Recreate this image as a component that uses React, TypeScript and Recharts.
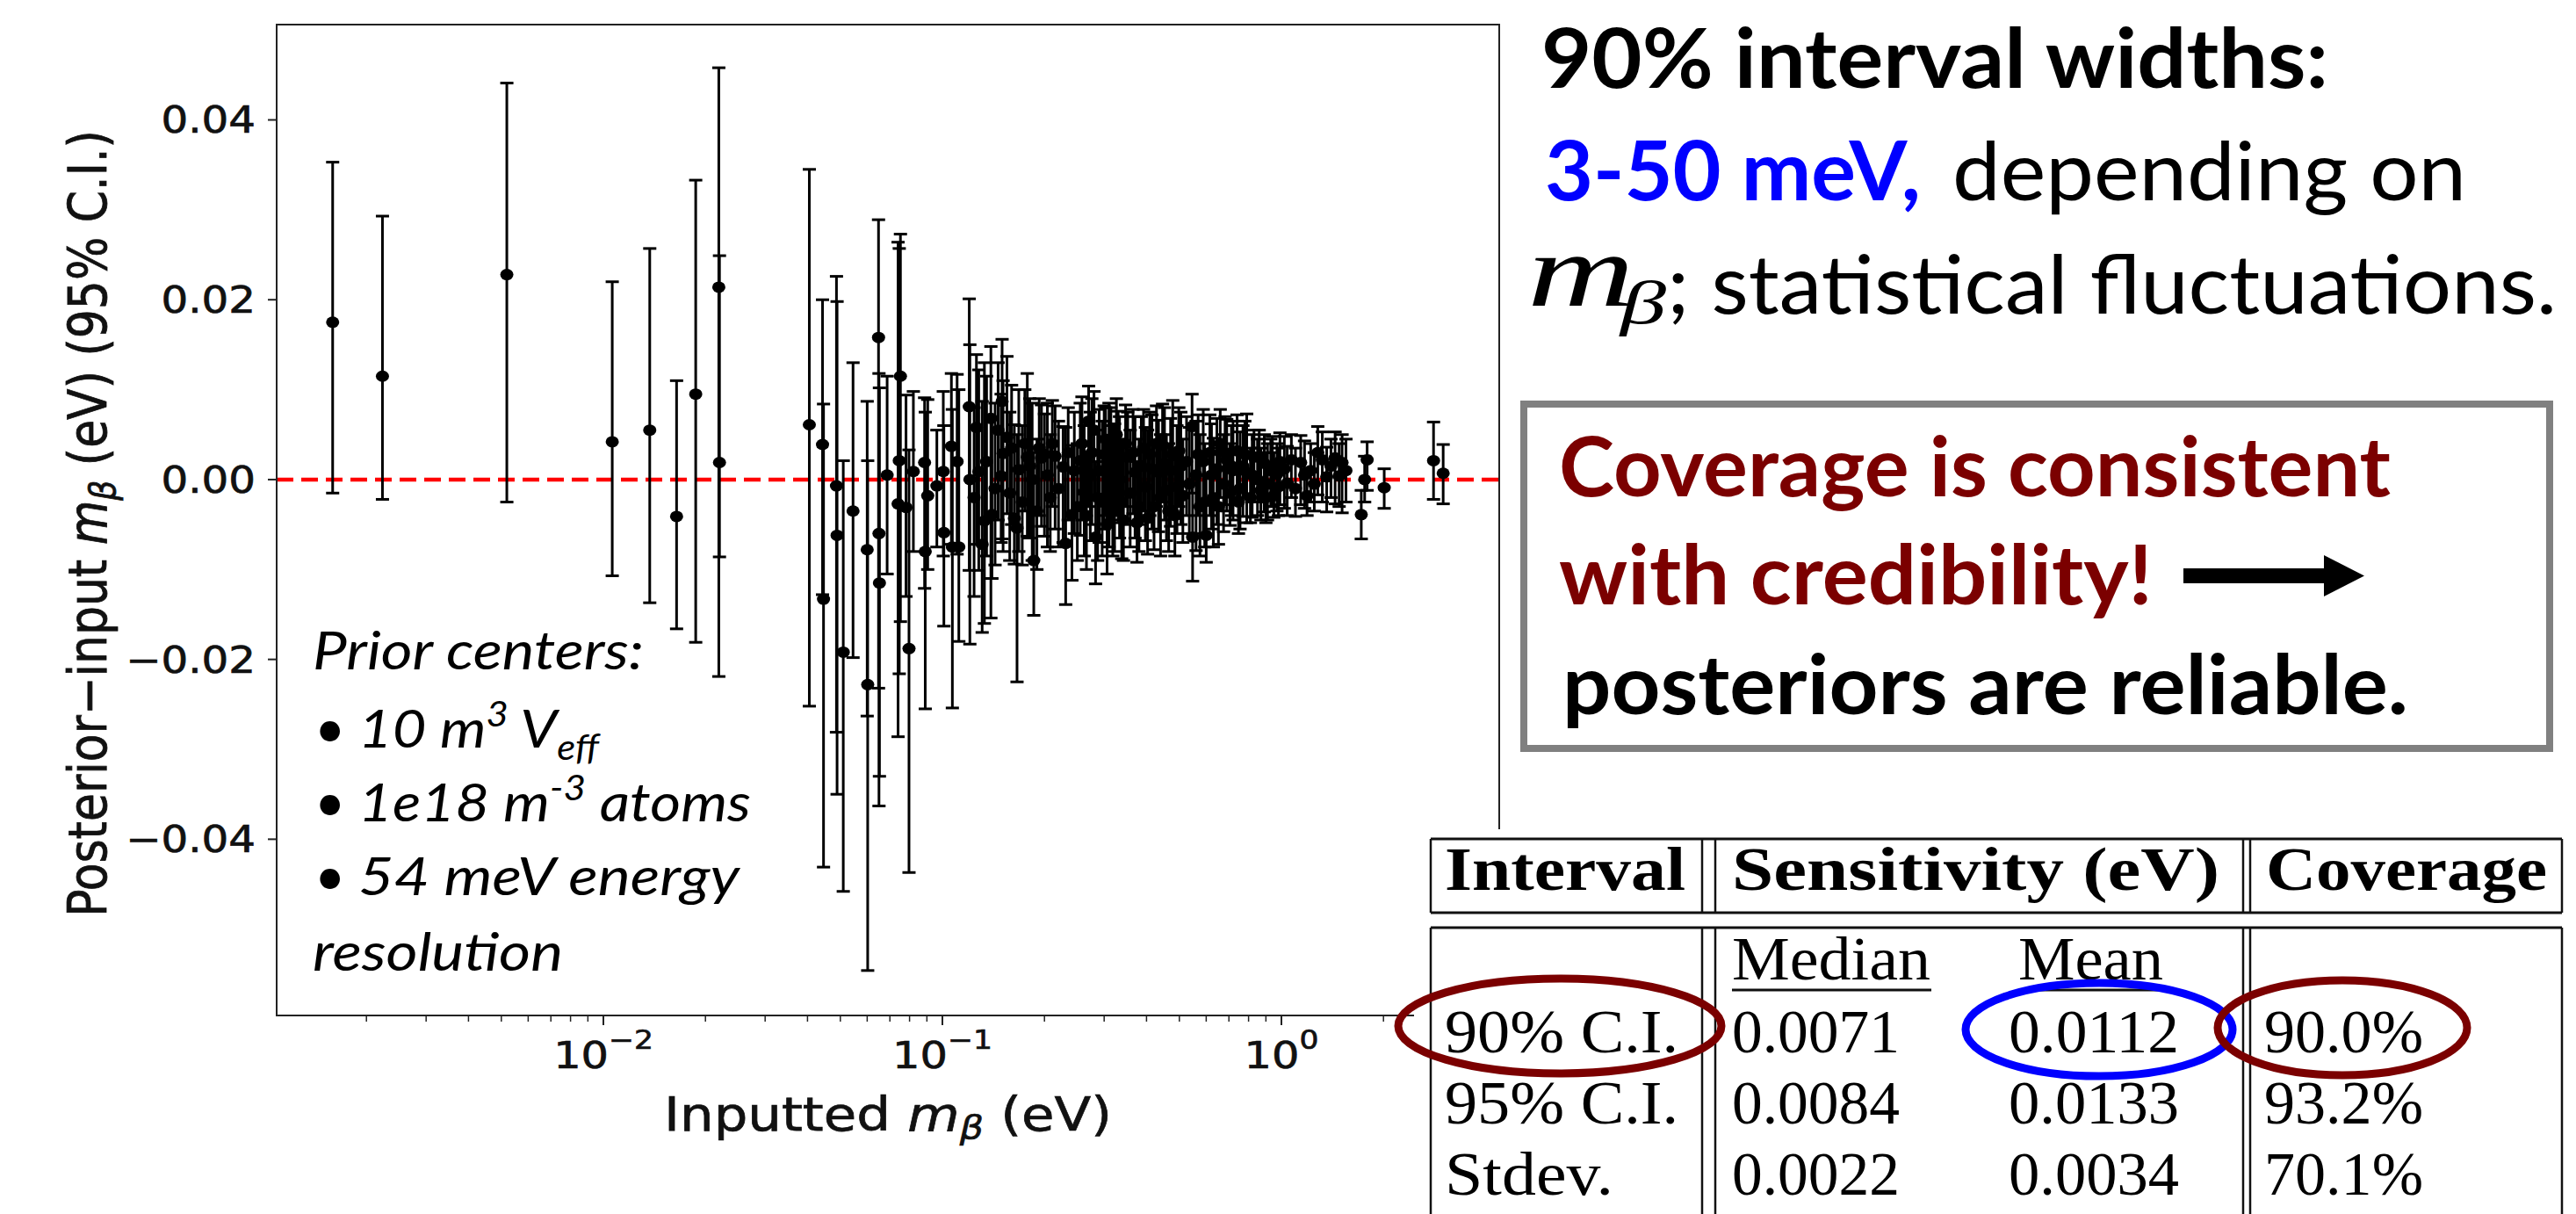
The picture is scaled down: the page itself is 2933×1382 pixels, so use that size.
import React from 'react';
import { ScatterChart, Scatter, XAxis, YAxis, ErrorBar, ReferenceLine, ReferenceArea } from 'recharts';

// each run: [inputted m_beta (eV), posterior - input (eV), 95% C.I. low, 95% C.I. high]
const lowMassRuns = [
  [0.00159, 0.0175, -0.0015, 0.0353],
  [0.00223, 0.0115, -0.0022, 0.0293],
  [0.00519, 0.0228, -0.0025, 0.0441],
  [0.01062, 0.0042, -0.0107, 0.022],
  [0.0137, 0.0055, -0.0137, 0.0257],
  [0.01644, -0.0041, -0.0166, 0.011],
  [0.01872, 0.0095, -0.0181, 0.0333],
  [0.0219, 0.0214, -0.0219, 0.0458],
  [0.022, 0.0019, -0.0086, 0.0249],
];

const midMassRuns = [
  [0.0405, 0.0061, -0.0252, 0.0345],
  [0.0443, 0.0039, -0.0128, 0.02],
  [0.0446, -0.0133, -0.0431, 0.0084],
  [0.0487, -0.0007, -0.0281, 0.0226],
  [0.0489, -0.0062, -0.035, 0.0198],
  [0.051, -0.0192, -0.0458, 0.0021],
  [0.0545, -0.0035, -0.0198, 0.013],
  [0.06, -0.0078, -0.0263, 0.0087],
  [0.0602, -0.0228, -0.0546, 0.0021],
  [0.0648, 0.0158, -0.0232, 0.0289],
  [0.065, -0.006, -0.0363, 0.0118],
  [0.0652, -0.0115, -0.033, 0.0102],
];

const clusterA = [
  [0.0687, 0.0005, -0.0105, 0.0115],
  [0.0752, 0.0115, -0.0158, 0.0273],
  [0.074, -0.0027, -0.0286, 0.0264],
  [0.0746, 0.0021, -0.0216, 0.0257],
  [0.0797, -0.0188, -0.0437, 0.0033],
  [0.0781, -0.0031, -0.013, 0.0094],
  [0.0821, 0.0009, -0.008, 0.0098],
  [0.0886, 0.0019, -0.0121, 0.0091],
  [0.089, -0.008, -0.0255, 0.0075],
  [0.0905, -0.0018, -0.01, 0.0089],
  [0.0963, -0.0007, -0.0075, 0.0055],
  [0.1006, 0.0009, -0.0085, 0.0098],
  [0.101, -0.0059, -0.0163, 0.006],
  [0.1063, 0.0037, -0.0072, 0.0118],
  [0.107, -0.0075, -0.0254, 0.0078],
  [0.1105, 0.002, -0.0083, 0.0117],
  [0.1118, -0.0075, -0.018, 0.01],
  [0.12, 0.0081, -0.0101, 0.0201],
  [0.1205, 0.0, -0.0183, 0.015],
];

const clusterB = [
  [0.124, -0.002, -0.013, 0.008],
  [0.126, 0.0058, -0.0072, 0.0139],
  [0.128, 0.0009, -0.0101, 0.0122],
  [0.131, -0.0072, -0.017, 0.0087],
  [0.133, -0.0046, -0.016, 0.013],
  [0.135, 0.002, -0.0085, 0.0115],
  [0.139, 0.0068, -0.0154, 0.0148],
  [0.14, -0.0039, -0.011, 0.007],
  [0.143, -0.001, -0.0095, 0.0085],
  [0.146, 0.0055, -0.0045, 0.013],
  [0.149, 0.0004, -0.007, 0.0095],
  [0.15, 0.0087, -0.0066, 0.0156],
  [0.151, 0.0029, -0.008, 0.011],
  [0.155, 0.0047, -0.0038, 0.0137],
  [0.158, -0.0015, -0.009, 0.0075],
  [0.16, 0.0035, -0.005, 0.0105],
  [0.163, -0.0043, -0.0094, 0.0061],
  [0.166, -0.0054, -0.0225, 0.005],
  [0.168, 0.0011, -0.008, 0.01],
  [0.172, -0.0025, -0.0095, 0.006],
  [0.175, 0.004, -0.0035, 0.01],
  [0.178, 0.0025, -0.0063, 0.0118],
  [0.181, 0.0015, -0.0065, 0.009],
  [0.184, 0.0, -0.009, 0.0085],
  [0.186, -0.009, -0.0151, 0.003],
  [0.19, -0.0035, -0.01, 0.0045],
  [0.193, 0.0035, -0.004, 0.009],
  [0.196, 0.0024, -0.0052, 0.0083],
  [0.2, 0.0028, -0.0063, 0.0073],
  [0.204, 0.0005, -0.0075, 0.0085],
  [0.208, -0.002, -0.008, 0.005],
  [0.211, 0.004, -0.003, 0.0088],
  [0.215, 0.0026, -0.0055, 0.0082],
  [0.22, -0.001, -0.0075, 0.0065],
  [0.227, 0.0014, -0.007, 0.0059],
  [0.231, -0.0071, -0.0139, 0.0058],
  [0.235, 0.003, -0.0045, 0.008],
  [0.241, -0.0039, -0.0112, 0.0038],
  [0.245, 0.001, -0.006, 0.0075],
  [0.25, -0.003, -0.009, 0.004],
];

const clusterC = [
  [0.255, 0.0021, -0.0062, 0.0085],
  [0.258, 0.004, -0.0045, 0.0092],
  [0.262, -0.0014, -0.0085, 0.006],
  [0.266, -0.004, -0.01, 0.003],
  [0.27, 0.0065, -0.003, 0.0104],
  [0.273, 0.0005, -0.0068, 0.0075],
  [0.276, 0.003, -0.005, 0.009],
  [0.28, 0.0055, -0.002, 0.0098],
  [0.283, -0.0064, -0.0116, 0.002],
  [0.287, -0.002, -0.009, 0.0055],
  [0.29, 0.001, -0.007, 0.0078],
  [0.296, -0.0025, -0.0085, 0.0065],
  [0.3, 0.0028, -0.0055, 0.0082],
  [0.303, 0.0045, -0.004, 0.008],
  [0.306, -0.005, -0.0105, 0.0025],
  [0.31, 0.0015, -0.0075, 0.0085],
  [0.314, 0.0035, -0.0045, 0.008],
  [0.318, -0.003, -0.0085, 0.006],
  [0.322, -0.001, -0.008, 0.0062],
  [0.326, 0.005, -0.004, 0.009],
  [0.33, 0.0022, -0.0048, 0.0076],
  [0.333, 0.0, -0.0065, 0.007],
  [0.338, -0.0025, -0.0088, 0.0045],
  [0.342, -0.0045, -0.009, 0.004],
  [0.347, 0.004, -0.003, 0.0083],
  [0.352, 0.0025, -0.005, 0.0075],
  [0.358, -0.0015, -0.0075, 0.0055],
  [0.365, 0.003, -0.0038, 0.0078],
  [0.37, 0.0008, -0.0065, 0.007],
  [0.375, -0.0048, -0.0092, 0.002],
  [0.38, -0.003, -0.008, 0.0045],
  [0.386, 0.0015, -0.005, 0.007],
  [0.392, 0.0035, -0.0035, 0.0078],
  [0.397, -0.0008, -0.0068, 0.0058],
  [0.403, -0.0043, -0.0083, 0.0055],
  [0.409, 0.0028, -0.004, 0.0075],
  [0.415, 0.0012, -0.0055, 0.0072],
  [0.421, -0.003, -0.0078, 0.0042],
  [0.428, 0.004, -0.003, 0.0082],
  [0.434, 0.0008, -0.0058, 0.0066],
  [0.44, -0.002, -0.0085, 0.005],
  [0.446, 0.0038, -0.0025, 0.0084],
  [0.452, 0.0018, -0.0045, 0.008],
  [0.458, -0.0012, -0.0068, 0.005],
  [0.465, -0.0035, -0.008, 0.004],
  [0.471, 0.001, -0.0052, 0.0068],
  [0.478, 0.0028, -0.0035, 0.0088],
  [0.485, -0.004, -0.0085, 0.0022],
  [0.492, -0.0008, -0.006, 0.006],
  [0.498, 0.0032, -0.003, 0.008],
  [0.505, 0.0015, -0.005, 0.0075],
  [0.512, -0.0018, -0.007, 0.0045],
  [0.525, 0.002, -0.004, 0.007],
  [0.535, -0.0005, -0.006, 0.0058],
  [0.545, 0.0059, -0.0015, 0.0095],
  [0.547, -0.0064, -0.0113, 0.0],
];

const clusterD = [
  [0.56, 0.0005, -0.0079, 0.0065],
  [0.568, 0.0028, -0.004, 0.0072],
  [0.575, -0.003, -0.0085, 0.005],
  [0.588, 0.002, -0.006, 0.0078],
  [0.594, -0.0025, -0.0075, 0.004],
  [0.6, -0.0062, -0.0092, 0.0005],
  [0.615, 0.003, -0.004, 0.0072],
  [0.622, 0.0005, -0.0055, 0.0062],
  [0.63, -0.002, -0.0075, 0.0046],
  [0.645, 0.0012, -0.005, 0.0068],
  [0.652, -0.003, -0.0072, 0.0035],
  [0.66, 0.004, -0.002, 0.0078],
  [0.675, -0.0005, -0.0058, 0.005],
  [0.682, 0.003, -0.0028, 0.007],
  [0.69, 0.0022, -0.0035, 0.0067],
  [0.705, -0.0015, -0.0051, 0.004],
  [0.712, 0.0015, -0.004, 0.006],
  [0.72, 0.001, -0.0045, 0.0065],
  [0.74, 0.0032, -0.002, 0.0072],
  [0.747, -0.0025, -0.006, 0.003],
  [0.755, -0.001, -0.0055, 0.0053],
  [0.77, 0.0015, -0.0041, 0.006],
  [0.78, 0.0028, -0.002, 0.0065],
  [0.79, 0.0008, -0.0048, 0.0073],
  [0.81, -0.002, -0.0048, 0.0035],
  [0.82, 0.0005, -0.0042, 0.005],
  [0.83, 0.0025, -0.0025, 0.0055],
  [0.85, 0.0, -0.004, 0.0045],
  [0.86, 0.0025, -0.0025, 0.0055],
  [0.87, -0.0012, -0.0045, 0.0035],
  [0.89, 0.0018, -0.0036, 0.005],
  [0.9, -0.002, -0.0048, 0.003],
  [0.91, -0.0005, -0.0045, 0.004],
  [0.93, 0.001, -0.003, 0.0045],
  [0.94, 0.0015, -0.003, 0.0048],
  [0.95, -0.0018, -0.0042, 0.003],
  [0.97, 0.0006, -0.0035, 0.004],
  [0.98, -0.0008, -0.004, 0.0035],
  [0.99, 0.002, -0.0028, 0.0052],
];

const clusterE = [
  [1.02, 0.0012, -0.0032, 0.0048],
  [1.04, -0.0004, -0.004, 0.0037],
  [1.07, 0.0022, -0.002, 0.005],
  [1.1, -0.001, -0.0041, 0.0035],
  [1.14, 0.0019, -0.0028, 0.0049],
  [1.17, 0.0005, -0.0032, 0.0043],
  [1.19, -0.0018, -0.004, 0.0012],
  [1.22, 0.001, -0.0025, 0.004],
  [1.25, -0.0005, -0.0035, 0.003],
  [1.28, 0.003, -0.0017, 0.0059],
  [1.32, 0.0022, -0.0025, 0.0053],
  [1.36, 0.0003, -0.0036, 0.0036],
  [1.4, 0.0015, -0.002, 0.0045],
  [1.44, 0.0024, -0.0027, 0.0053],
  [1.48, 0.0004, -0.003, 0.004],
  [1.51, 0.0019, -0.0037, 0.005],
  [1.55, 0.001, -0.0025, 0.0045],
];

const highMassRuns = [
  [1.72, -0.0039, -0.0066, -0.0012],
  [1.76, 0.0, -0.0025, 0.0026],
  [1.79, 0.0022, -0.0012, 0.0042],
  [2.01, -0.0009, -0.0032, 0.0012],
  [2.81, 0.0021, -0.0022, 0.0064],
  [3.0, 0.0007, -0.0027, 0.0039],
];

const xDomain = [0.001087, 4.39];
const yDomain = [-0.0596, 0.0506];
const yTicks = [-0.04, -0.02, 0, 0.02, 0.04];
const xTicks = [
  0.002, 0.003, 0.004, 0.005, 0.006, 0.007, 0.008, 0.009,
  0.01, 0.02, 0.03, 0.04, 0.05, 0.06, 0.07, 0.08, 0.09,
  0.1, 0.2, 0.3, 0.4, 0.5, 0.6, 0.7, 0.8, 0.9,
  1, 2, 3, 4,
];

// table on the slide
const intervalNames = ['90% C.I.', '95% C.I.', 'Stdev.'];
const medianSensitivity = ['0.0071', '0.0084', '0.0022'];
const meanSensitivity = ['0.0112', '0.0133', '0.0034'];
const coverage = ['90.0%', '93.2%', '70.1%'];

const runs = [...lowMassRuns, ...midMassRuns, ...clusterA, ...clusterB, ...clusterC, ...clusterD, ...clusterE, ...highMassRuns]
  .map(([x, y, lo, hi]) => ({ x, y, err: [y - lo, hi - y] }));

// the figure was pasted slightly stretched sideways
const wide = (x: number, y: number) => `translate(${x} ${y}) scale(1.15 1) translate(${-x} ${-y})`;
const MPL = 'DejaVu Sans';
const SLIDE = 'Lato';
const TEX = 'Liberation Serif';
const INK = { fill: '#111', stroke: '#111', strokeWidth: 0.7 };

const XTick = ({ x, y, payload }: any) => {
  const e = Math.log10(payload.value);
  const major = Math.abs(e - Math.round(e)) < 1e-6;
  const exp = Math.round(e);
  return (
    <g>
      <line x1={x} x2={x} y1={y} y2={y + (major ? 11 : 7)} stroke="#222" strokeWidth={major ? 2 : 1.5} />
      {major && (
        <text x={x} y={y + 60} textAnchor="middle" fontSize={43} fontFamily={MPL} {...INK} transform={wide(x, y + 60)}>
          10<tspan dy={-22} fontSize={30}>{exp < 0 ? `−${-exp}` : `${exp}`}</tspan>
        </text>
      )}
    </g>
  );
};

const YTick = ({ x, y, payload }: any) => {
  const v = payload.value;
  const label = (v < 0 ? '−' : '') + Math.abs(v).toFixed(2);
  return (
    <g>
      <line x1={x - 10} x2={x} y1={y} y2={y} stroke="#222" strokeWidth={2} />
      <text x={x - 24} y={y + 15} textAnchor="end" fontSize={42} fontFamily={MPL} {...INK} transform={wide(x - 24, y + 15)}>
        {label}
      </text>
    </g>
  );
};

const XTitle = ({ viewBox }: any) => {
  const cx = viewBox.x + viewBox.width / 2;
  const by = viewBox.y + 131;
  return (
    <text x={cx} y={by} textAnchor="middle" fontSize={53} fontFamily={MPL} {...INK} transform={wide(cx, by)}>
      {'Inputted '}<tspan fontStyle="italic">m</tspan><tspan fontStyle="italic" fontSize={37} dy={9}>β</tspan><tspan dy={-9}>{' (eV)'}</tspan>
    </text>
  );
};

const YTitle = ({ viewBox }: any) => {
  const cx = viewBox.x - 15;
  const cy = viewBox.y + viewBox.height / 2 + 4;
  return (
    <text x={cx} y={cy + 18} textAnchor="middle" fontSize={52} fontFamily={MPL} {...INK}
      transform={`translate(${cx} ${cy}) scale(1.15 1) rotate(-90) translate(${-cx} ${-cy})`}>
      {'Posterior−input '}<tspan fontStyle="italic">m</tspan><tspan fontStyle="italic" fontSize={36} dy={9}>β</tspan><tspan dy={-9}>{' (eV) (95% C.I.)'}</tspan>
    </text>
  );
};

const Dot = ({ cx, cy }: any) => <ellipse cx={cx} cy={cy} rx={7.5} ry={6.5} fill="#000" />;

const fit = (len: number) => ({ textLength: len, lengthAdjust: 'spacingAndGlyphs' as const });

export default function App() {
  const cols = [1629, 1938, 1953, 2554, 2562, 2917];
  const rowBase = [1198, 1279, 1360];
  return (
    <div style={{ position: 'fixed', left: 0, top: 0, width: 2933, height: 1382, background: '#fff', overflow: 'hidden', fontFamily: MPL }}>
      <div style={{ position: 'absolute', left: 0, top: 0 }}>
        <ScatterChart width={1760} height={1382} margin={{ top: 28, right: 53, bottom: 126, left: 115 }}>
          <XAxis
            type="number"
            dataKey="x"
            scale="log"
            domain={xDomain}
            allowDataOverflow
            ticks={xTicks}
            interval={0}
            tick={(p: any) => <XTick {...p} />}
            tickLine={false}
            tickSize={0}
            tickMargin={0}
            height={100}
            axisLine={{ stroke: '#222', strokeWidth: 2 }}
            label={<XTitle />}
          />
          <YAxis
            type="number"
            dataKey="y"
            domain={yDomain}
            allowDataOverflow
            ticks={yTicks}
            interval={0}
            tick={(p: any) => <YTick {...p} />}
            tickLine={false}
            tickSize={0}
            tickMargin={0}
            width={200}
            axisLine={{ stroke: '#222', strokeWidth: 2 }}
            label={<YTitle />}
          />
          <ReferenceArea x1={xDomain[0]} x2={xDomain[1]} y1={yDomain[0]} y2={yDomain[1]} fill="none" fillOpacity={0} stroke="#222" strokeWidth={2} />
          <ReferenceLine y={0} stroke="#ff0000" strokeWidth={4.5} strokeDasharray="19 9" />
          <Scatter data={runs} fill="#000" shape={(p: any) => <Dot {...p} />} isAnimationActive={false}>
            <ErrorBar dataKey="err" direction="y" width={7.5} stroke="#000" strokeWidth={3} />
          </Scatter>
        </ScatterChart>
      </div>

      <svg width={2933} height={1382} style={{ position: 'absolute', left: 0, top: 0, pointerEvents: 'none' }}>
        {/* prior centers note inside the plot */}
        <g fontFamily={SLIDE} fontStyle="italic" fontSize={61} fill="#000">
          <text x={356} y={762} {...fit(377)}>Prior centers:</text>
          <text x={358} y={851} fontStyle="normal">•</text>
          <text x={358} y={935} fontStyle="normal">•</text>
          <text x={358} y={1019} fontStyle="normal">•</text>
          <text x={408} y={851} {...fit(274)}>
            {'10 m'}<tspan dy={-24} fontSize={40}>3</tspan><tspan dy={24}>{' V'}</tspan><tspan dy={14} fontSize={40}>eff</tspan>
          </text>
          <text x={408} y={935} {...fit(447)}>
            {'1e18 m'}<tspan dy={-24} fontSize={40}>-3</tspan><tspan dy={24}>{' atoms'}</tspan>
          </text>
          <text x={408} y={1019} {...fit(434)}>54 meV energy</text>
          <text x={356} y={1105} {...fit(285)}>resolution</text>
        </g>

        {/* slide text */}
        <g fontFamily={SLIDE} fontSize={93}>
          <text x={1755} y={100} fontWeight={700} fill="#000" {...fit(896)}>90% interval widths:</text>
          <text x={1759} y={228} fontWeight={700} fill="#0000ff" {...fit(428)}>3-50 meV,</text>
          <text x={2223} y={228} fill="#000" {...fit(585)}>depending on</text>
          <text x={1739} y={348} fontFamily={TEX} fontStyle="italic" fontSize={118} fill="#000" {...fit(122)}>m</text>
          <text x={1845} y={368} fontFamily={TEX} fontStyle="italic" fontSize={70} fill="#000" {...fit(52)}>β</text>
          <text x={1898} y={357} fill="#000" {...fit(1013)}>; statistical fluctuations.</text>
        </g>

        <rect x={1735} y={460} width={1168} height={392} fill="#fff" stroke="#808080" strokeWidth={8} />
        <g fontFamily={SLIDE} fontSize={93} fontWeight={700}>
          <text x={1775} y={565} fill="#7b0000" {...fit(947)}>Coverage is consistent</text>
          <text x={1775} y={688} fill="#7b0000" {...fit(676)}>with credibility!</text>
          <text x={1779} y={813} fill="#000" {...fit(963)}>posteriors are reliable.</text>
        </g>
        <rect x={2486} y={647} width={162} height={17} fill="#000" />
        <polygon points="2646,632 2692,655.5 2646,679" fill="#000" />

        {/* results table, pasted over the corner of the plot */}
        <rect x={1610} y={944} width={1323} height={438} fill="#fff" />
        <g stroke="#111" strokeWidth={2.5}>
          <line x1={cols[0]} x2={cols[5]} y1={955} y2={955} strokeWidth={3} />
          <line x1={cols[0]} x2={cols[5]} y1={1039} y2={1039} strokeWidth={3} />
          <line x1={cols[0]} x2={cols[5]} y1={1056} y2={1056} strokeWidth={3} />
          {cols.map((c) => <line key={`h${c}`} x1={c} x2={c} y1={955} y2={1039} />)}
          {cols.map((c) => <line key={`b${c}`} x1={c} x2={c} y1={1056} y2={1382} />)}
          <line x1={1972} x2={2199} y1={1127} y2={1127} strokeWidth={3} />
          <line x1={2298} x2={2465} y1={1127} y2={1127} strokeWidth={3} />
        </g>
        <g fontFamily={TEX} fontSize={70} fill="#000">
          <text x={1645} y={1013} fontWeight={700} {...fit(274)}>Interval</text>
          <text x={1972} y={1013} fontWeight={700} {...fit(555)}>Sensitivity (eV)</text>
          <text x={2580} y={1013} fontWeight={700} {...fit(320)}>Coverage</text>
          <text x={1972} y={1115} {...fit(226)}>Median</text>
          <text x={2298} y={1115} {...fit(165)}>Mean</text>
          {intervalNames.map((t, i) => (
            <text key={t} x={1645} y={rowBase[i]} {...fit(t === 'Stdev.' ? 192 : 266)}>{t}</text>
          ))}
          {medianSensitivity.map((t, i) => (
            <text key={`m${i}`} x={1972} y={rowBase[i]} {...fit(191)}>{t}</text>
          ))}
          {meanSensitivity.map((t, i) => (
            <text key={`a${i}`} x={2287} y={rowBase[i]} {...fit(194)}>{t}</text>
          ))}
          {coverage.map((t, i) => (
            <text key={`c${i}`} x={2578} y={rowBase[i]} {...fit(181)}>{t}</text>
          ))}
        </g>
        <ellipse cx={1776} cy={1168} rx={184} ry={54} fill="none" stroke="#7b0000" strokeWidth={9} />
        <ellipse cx={2390} cy={1172} rx={152} ry={53} fill="none" stroke="#0000ff" strokeWidth={9} />
        <ellipse cx={2667} cy={1170} rx={142} ry={54} fill="none" stroke="#7b0000" strokeWidth={9} />
      </svg>
    </div>
  );
}
